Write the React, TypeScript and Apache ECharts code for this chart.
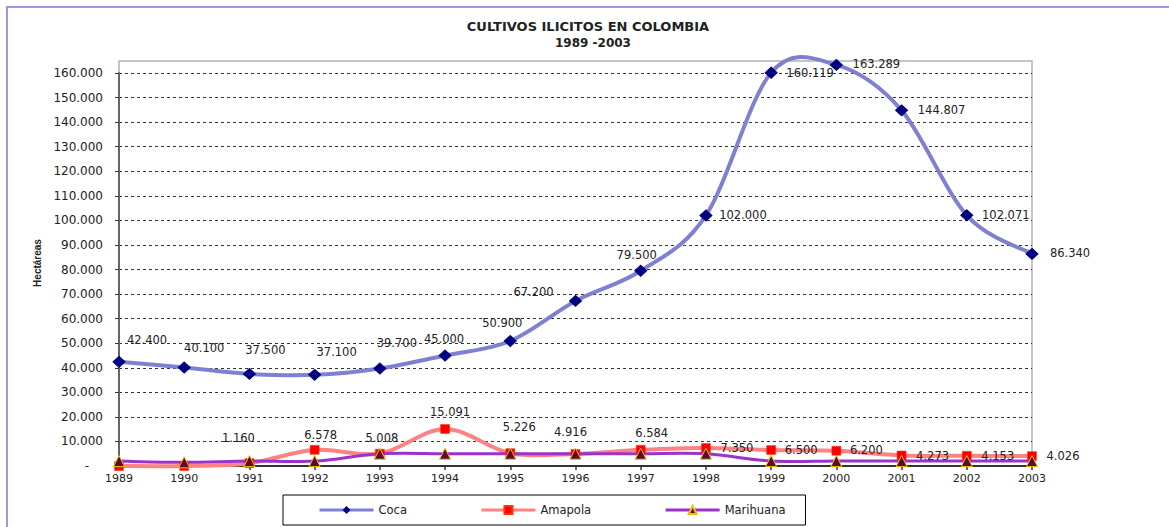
import React, { useEffect, useRef } from "react";
import * as echarts from "echarts";

const years = ["1989", "1990", "1991", "1992", "1993", "1994", "1995", "1996", "1997", "1998", "1999", "2000", "2001", "2002", "2003"];
const coca = [42400, 40100, 37500, 37100, 39700, 45000, 50900, 67200, 79500, 102000, 160119, 163289, 144807, 102071, 86340];
const amapola = [0, 0, 1160, 6578, 5008, 15091, 5226, 4916, 6584, 7350, 6500, 6200, 4273, 4153, 4026];
const marihuana = [2000, 1500, 2000, 2000, 5000, 5000, 5000, 5000, 5000, 5000, 2000, 2000, 2000, 2000, 2000];
const seriesNames = ["Coca", "Amapola", "Marihuana"];
const titleText = "CULTIVOS ILICITOS EN COLOMBIA";
const subtitleText = "1989 -2003";
const yAxisTitle = "Hectáreas";

// label placement (style, not data)
const cocaLabelOffset = [
  [28, -22], [20, -20], [16, -24], [22, -23], [17, -25], [-1, -16], [-8, -18], [-42, -9], [-4, -16],
  [37, 0], [39, 0], [40, -1], [40, 0], [39, 0], [38, -1],
];
const amapolaLabelOffset = [
  [0, 0], [0, 0], [-11, -25], [6, -15], [2, -16], [5, -17], [9, -26], [-5, -22], [11, -17],
  [31, 0], [30, 0], [30, -1], [31, 0], [31, 0], [31, 0],
];

const FONT = "DejaVu Sans";
const COCA_LINE = "#8080d2";
const AMAPOLA_LINE = "#ff8282";
const MARI_LINE = "#9933cc";

const fmt = (v: number) => {
  if (v === 0) return "-";
  return Math.round(v).toString().replace(/\B(?=(\d{3})+(?!\d))/g, ".");
};

// Excel-like (Catmull-Rom) smoothed curve drawn segment by segment through the axes' scales
function curveSeries(name: string, values: number[], color: string, width: number, z: number) {
  const n = values.length;
  return {
    name,
    type: "custom",
    coordinateSystem: "cartesian2d",
    clip: false,
    silent: true,
    z,
    data: values.slice(0, n - 1).map((v, i) => [i, v]),
    renderItem: (params: any, api: any) => {
      const i = params.dataIndex;
      const c = (k: number) => api.coord([Math.max(0, Math.min(n - 1, k)), values[Math.max(0, Math.min(n - 1, k))]]);
      const p0 = c(i - 1);
      const p1 = c(i);
      const p2 = c(i + 1);
      const p3 = c(i + 2);
      const t = 1 / 6;
      return {
        type: "bezierCurve",
        shape: {
          x1: p1[0],
          y1: p1[1],
          x2: p2[0],
          y2: p2[1],
          cpx1: p1[0] + (p2[0] - p0[0]) * t,
          cpy1: p1[1] + (p2[1] - p0[1]) * t,
          cpx2: p2[0] - (p3[0] - p1[0]) * t,
          cpy2: p2[1] - (p3[1] - p1[1]) * t,
        },
        style: { stroke: color, lineWidth: width, fill: "none", lineCap: "round" },
      };
    },
  };
}

export default function App() {
  const ref = useRef<HTMLDivElement>(null);
  useEffect(() => {
    if (!ref.current) return;
    const chart = echarts.init(ref.current, null, { renderer: "svg" });
    const labelBase = {
      show: true,
      position: "inside",
      align: "center",
      verticalAlign: "middle",
      color: "#222",
      fontSize: 11.5,
      fontFamily: FONT,
      formatter: (p: any) => fmt(p.value),
    };
    const option: any = {
      animation: false,
      backgroundColor: "#fff",
      title: [
        {
          text: titleText,
          left: 588,
          top: 20,
          textAlign: "center",
          padding: 0,
          textStyle: { fontFamily: FONT, fontWeight: "bold", fontSize: 13, color: "#222" },
        },
        {
          text: subtitleText,
          left: 593,
          top: 37,
          textAlign: "center",
          padding: 0,
          textStyle: { fontFamily: FONT, fontWeight: "bold", fontSize: 12, color: "#222" },
        },
      ],
      legend: {
        data: [
          { name: seriesNames[0], lineStyle: { color: COCA_LINE, width: 3, opacity: 1 } },
          { name: seriesNames[1], lineStyle: { color: AMAPOLA_LINE, width: 3, opacity: 1 } },
          { name: seriesNames[2], lineStyle: { color: MARI_LINE, width: 3, opacity: 1 } },
        ],
        left: 283,
        top: 495,
        orient: "horizontal",
        padding: [9, 20, 9, 35],
        itemGap: 73,
        itemWidth: 54,
        itemHeight: 10,
        borderColor: "#000",
        borderWidth: 1,
        textStyle: { fontFamily: FONT, fontSize: 11.5, color: "#222" },
      },
      graphic: [
        {
          type: "rect",
          shape: { x: 7, y: 7, width: 1185, height: 545 },
          style: { fill: "none", stroke: "#9a9ae0", lineWidth: 2 },
          z: 0,
          silent: true,
        },
        {
          type: "rect",
          shape: { x: 119, y: 61, width: 913, height: 405 },
          style: { fill: "none", stroke: "#b4b4b4", lineWidth: 1.5 },
          z: 0,
          silent: true,
        },
        {
          type: "text",
          x: 37,
          y: 263,
          rotation: Math.PI / 2,
          style: {
            text: yAxisTitle,
            fontFamily: "Liberation Sans",
            fontWeight: "bold",
            fontSize: 10,
            fill: "#222",
            align: "center",
            verticalAlign: "middle",
          },
          z: 5,
        },
      ],
      grid: { left: 119, right: 137, top: 73, bottom: 61, containLabel: false },
      xAxis: {
        type: "category",
        data: years,
        boundaryGap: false,
        axisLine: { show: true, lineStyle: { color: "#333", width: 2 } },
        axisTick: { show: true, alignWithLabel: true, length: 4, lineStyle: { color: "#333", width: 1.5 } },
        axisLabel: { margin: 7, fontFamily: FONT, fontSize: 11, color: "#222", interval: 0 },
        splitLine: { show: false },
      },
      yAxis: {
        type: "value",
        min: 0,
        max: 160000,
        interval: 10000,
        axisLine: { show: true, lineStyle: { color: "#666", width: 2 } },
        axisTick: { show: true, length: 4, lineStyle: { color: "#333", width: 1 } },
        axisLabel: {
          margin: 16,
          fontFamily: FONT,
          fontSize: 12,
          color: "#222",
          formatter: (v: number) => (v === 0 ? "{z|-}" : fmt(v)),
          rich: { z: { padding: [0, 14, 0, 0], fontFamily: FONT, fontSize: 12, color: "#222" } },
        },
        splitLine: { show: true, lineStyle: { color: "#333", width: 1, type: [3, 3] } },
      },
      series: [
        curveSeries("Coca-curve", coca, COCA_LINE, 4, 2),
        curveSeries("Amapola-curve", amapola, AMAPOLA_LINE, 4, 2),
        curveSeries("Marihuana-curve", marihuana, MARI_LINE, 3, 2),
        {
          name: seriesNames[0],
          type: "line",
          clip: false,
          symbol: "diamond",
          symbolSize: [12, 11],
          lineStyle: { color: COCA_LINE, width: 4, opacity: 0 },
          itemStyle: { color: "#000080", borderColor: "#000080" },
          label: labelBase,
          data: coca.map((v, i) => ({ value: v, label: { offset: cocaLabelOffset[i] } })),
          z: 5,
        },
        {
          name: seriesNames[1],
          type: "line",
          clip: false,
          symbol: "rect",
          symbolSize: 9,
          lineStyle: { color: AMAPOLA_LINE, width: 4, opacity: 0 },
          itemStyle: { color: "#ff0000", borderColor: "#ff3300", borderWidth: 0.5 },
          label: labelBase,
          data: amapola.map((v, i) => ({
            value: v,
            label: i < 2 ? { show: false } : { offset: amapolaLabelOffset[i] },
          })),
          z: 4,
        },
        {
          name: seriesNames[2],
          type: "line",
          clip: false,
          symbol: "triangle",
          symbolSize: 11,
          lineStyle: { color: MARI_LINE, width: 3, opacity: 0 },
          itemStyle: { color: "#5a0a3a", borderColor: "#f0c000", borderWidth: 1 },
          label: { show: false },
          data: marihuana,
          z: 4,
        },
      ],
    };
    chart.setOption(option);
    return () => chart.dispose();
  }, []);
  return (
    <div
      ref={ref}
      style={{ position: "absolute", left: 0, top: 0, width: 1169, height: 527, background: "#fff" }}
    />
  );
}
